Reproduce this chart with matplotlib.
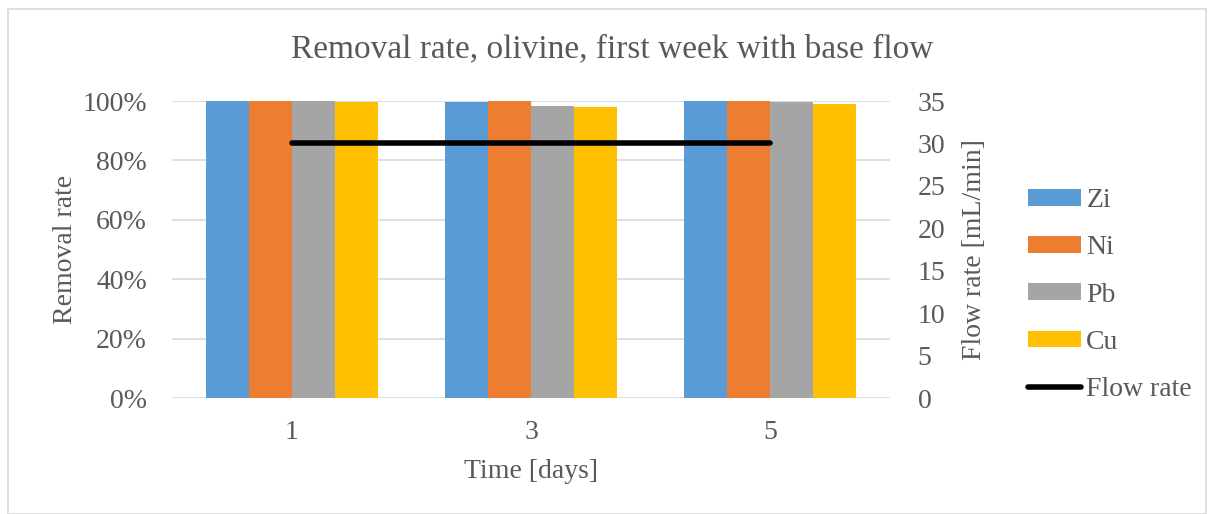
import matplotlib.pyplot as plt
import numpy as np
from matplotlib.patches import Rectangle

# data
days = ['1', '3', '5']
zi = [1.000, 0.998, 1.000]
ni = [1.000, 1.000, 1.000]
pb = [1.000, 0.984, 0.997]
cu = [0.996, 0.980, 0.990]
flow = [30, 30, 30]

names = ['Zi', 'Ni', 'Pb', 'Cu']
colors = ['#5B9BD5', '#ED7D31', '#A5A5A5', '#FFC000']
grey = '#595959'

plt.rcParams['font.family'] = ['Liberation Serif', 'DejaVu Serif']

fig = plt.figure(figsize=(12.14, 5.14), dpi=100)
ax = fig.add_axes([172/1214, 1 - 398/514, (890 - 172)/1214, (398 - 101)/514])

x = np.arange(len(days))
w = 0.18
series = [zi, ni, pb, cu]
for i, s in enumerate(series):
    ax.bar(x + (i - 1.5)*w, s, w, color=colors[i], label=names[i], zorder=2)

ax.set_ylim(0, 1.0)
ax.set_xlim(-0.5, 2.5)
ax.set_yticks(np.arange(0, 1.01, 0.2))
ax.set_yticklabels(['%d%%' % round(v*100) for v in np.arange(0, 1.01, 0.2)])
ax.set_xticks(x)
ax.set_xticklabels(days)
ax.grid(axis='y', color='#d9d9d9', lw=1.2, zorder=0)
ax.set_axisbelow(True)
for sp in ax.spines.values():
    sp.set_visible(False)
ax.tick_params(axis='y', length=0, labelsize=20, colors=grey, pad=18)
ax.tick_params(axis='x', length=0, labelsize=20, colors=grey, pad=16)
ax.set_xlabel('Time [days]', fontsize=20, color=grey, labelpad=10)
ax.set_ylabel('Removal rate', fontsize=20, color=grey, labelpad=3)

ax2 = ax.twinx()
ax2.plot(x, flow, color='black', lw=4, solid_capstyle='round', label='Flow rate', zorder=3)
ax2.set_ylim(0, 35)
ax2.set_yticks(range(0, 36, 5))
for sp in ax2.spines.values():
    sp.set_visible(False)
ax2.tick_params(length=0, labelsize=20, colors=grey, pad=20)
ax2.set_ylabel('Flow rate [mL/min]', fontsize=20, color=grey, labelpad=12)

fig.text(612/1214, 1 - 49/514, 'Removal rate, olivine, first week with base flow',
         fontsize=24, color=grey, ha='center', va='center')

h1, l1 = ax.get_legend_handles_labels()
h2, l2 = ax2.get_legend_handles_labels()
fig.legend(h1 + h2, l1 + l2, loc='center left', bbox_to_anchor=(1003/1214, 1 - 295/514),
           frameon=False, fontsize=20, labelcolor=grey, handlelength=1.9,
           handleheight=0.55, labelspacing=0.8, handletextpad=0.2)

fig.patches.append(Rectangle((8/1214, 0), 1 - 16/1214, 1 - 9/514, transform=fig.transFigure,
                             fill=False, edgecolor='#d9d9d9', lw=1.2))

fig.savefig('out.png', dpi=100)
